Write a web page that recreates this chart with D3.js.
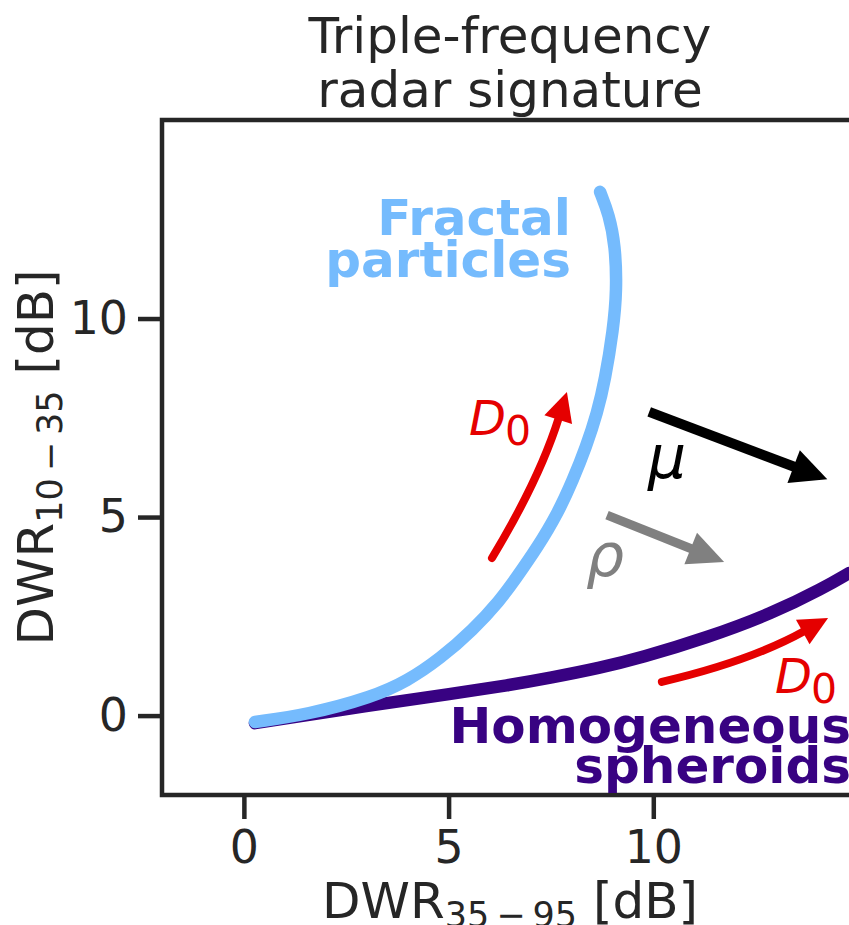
<!DOCTYPE html>
<html>
<head>
<meta charset="utf-8">
<script src="https://cdn.jsdelivr.net/npm/d3@7"></script>
<style>
  html, body { margin: 0; padding: 0; background: #ffffff; }
  svg { display: block; font-family: "DejaVu Sans", sans-serif; }
</style>
</head>
<body>
<svg id="chart" width="849" height="925"></svg>
<script>
// Model curves in (DWR35-95, DWR10-35) space, dB
const fractalCurve = [
  [0.27, -0.16], [1.54, 0.02], [3.15, 0.47], [3.99, 0.87], [4.79, 1.43],
  [5.60, 2.16], [6.26, 2.91], [6.62, 3.42], [7.18, 4.25], [7.67, 5.10],
  [8.04, 5.94], [8.36, 6.77], [8.63, 7.62], [8.82, 8.45], [9.02, 9.71],
  [9.11, 10.72], [9.07, 11.85], [8.92, 12.61], [8.70, 13.19]
];
const spheroidCurve = [
  [0.27, -0.19], [3.15, 0.27], [5.04, 0.54], [6.50, 0.77], [7.48, 0.95],
  [8.70, 1.20], [9.68, 1.45], [11.31, 1.96], [12.92, 2.58], [14.15, 3.21],
  [14.78, 3.59]
];
const xTicks = [0, 5, 10];
const yTicks = [0, 5, 10];
const titleLines = ["Triple-frequency", "radar signature"];

// Arrow anchors (tail -> tip) in data units
const arrowMu = [[9.90, 7.65], [14.25, 5.95]];
const arrowRho = [[8.87, 5.05], [11.73, 3.87]];
const arrowD0Fractal = [[6.06, 3.97], [7.89, 8.15]];
const arrowD0Spheroid = [[10.21, 0.85], [14.27, 2.46]];

const C = {
  text: "#262626",
  fractal: "#75bbfd",
  spheroid: "#380282",
  red: "#e50000",
  grey: "#808080",
  black: "#000000"
};

const svg = d3.select("#chart");
const plot = { left: 162, right: 858, top: 120, bottom: 795 };

const x = d3.scaleLinear().domain([-2, 15]).range([plot.left, plot.right]);
const y = d3.scaleLinear().domain([-2, 15]).range([plot.bottom, plot.top]);

// Curves
const line = d3.line().x(d => x(d[0])).y(d => y(d[1])).curve(d3.curveBasis);

svg.append("path")
  .datum(spheroidCurve)
  .attr("d", line)
  .attr("fill", "none")
  .attr("stroke", C.spheroid)
  .attr("stroke-width", 12.5)
  .attr("stroke-linecap", "round")
  .attr("stroke-linejoin", "round");

svg.append("path")
  .datum(fractalCurve)
  .attr("d", line)
  .attr("fill", "none")
  .attr("stroke", C.fractal)
  .attr("stroke-width", 12.5)
  .attr("stroke-linecap", "round")
  .attr("stroke-linejoin", "round");

// Arrows: optional curvature bends the shaft as a quadratic arc
function arrow(pts, o) {
  const T = [x(pts[0][0]), y(pts[0][1])];
  const P = [x(pts[1][0]), y(pts[1][1])];
  const dx = P[0] - T[0], dy = P[1] - T[1];
  const rad = o.rad || 0;
  const Cp = [(T[0] + P[0]) / 2 - rad * dy, (T[1] + P[1]) / 2 + rad * dx];
  let ux = P[0] - Cp[0], uy = P[1] - Cp[1];
  const L = Math.hypot(ux, uy);
  ux /= L; uy /= L;
  const B = [P[0] - ux * o.headLen, P[1] - uy * o.headLen];
  const nx = -uy, ny = ux;
  const g = svg.append("g");
  const p = d3.path();
  p.moveTo(T[0], T[1]);
  if (rad) p.quadraticCurveTo(Cp[0], Cp[1], B[0] + ux * 2, B[1] + uy * 2);
  else p.lineTo(B[0] + ux * 2, B[1] + uy * 2);
  g.append("path")
    .attr("d", p.toString())
    .attr("fill", "none")
    .attr("stroke", o.color)
    .attr("stroke-width", o.width)
    .attr("stroke-linecap", o.cap || "butt");
  const hw = o.headWidth / 2;
  g.append("path")
    .attr("d", d3.line()([
      P,
      [B[0] + nx * hw, B[1] + ny * hw],
      [B[0] - nx * hw, B[1] - ny * hw]
    ]) + "Z")
    .attr("fill", o.color);
}

arrow(arrowMu, { color: C.black, width: 10, headLen: 36, headWidth: 35 });
arrow(arrowRho, { color: C.grey, width: 9, headLen: 36, headWidth: 34 });
arrow(arrowD0Fractal, { color: C.red, width: 8, headLen: 29, headWidth: 29, rad: 0.06, cap: "round" });
arrow(arrowD0Spheroid, { color: C.red, width: 8, headLen: 29, headWidth: 28, rad: 0.07, cap: "round" });

// Spines (left, bottom, top; the right one sits past the figure edge)
svg.append("path")
  .attr("d", `M${plot.right},${plot.top}H${plot.left}V${plot.bottom}H${plot.right}`)
  .attr("fill", "none")
  .attr("stroke", C.text)
  .attr("stroke-width", 4.5);

// Axes
const xAxis = svg.append("g")
  .attr("transform", `translate(0,${plot.bottom})`)
  .call(d3.axisBottom(x).tickValues(xTicks).tickFormat(d3.format("d")).tickSize(24).tickPadding(11));
const yAxis = svg.append("g")
  .attr("transform", `translate(${plot.left},0)`)
  .call(d3.axisLeft(y).tickValues(yTicks).tickFormat(d3.format("d")).tickSize(24).tickPadding(10));
[xAxis, yAxis].forEach(a => {
  a.select(".domain").remove();
  a.selectAll(".tick line").attr("stroke", C.text).attr("stroke-width", 4.5);
  a.selectAll(".tick text")
    .attr("fill", C.text)
    .attr("font-size", 45.8)
    .attr("font-family", "DejaVu Sans");
});

// Axis labels with subscripts
function labelWithSub(sel, main, sub, tail) {
  sel.append("tspan").text(main);
  sel.append("tspan").attr("font-size", 35).attr("dy", 9).text(sub);
  sel.append("tspan").attr("dy", -9).text(tail);
}
const xl = svg.append("text")
  .attr("x", (plot.left + plot.right) / 2)
  .attr("y", 918)
  .attr("text-anchor", "middle")
  .attr("font-size", 50)
  .attr("fill", C.text);
labelWithSub(xl, "DWR", "35\u2009\u2212\u200995", " [dB]");

const yl = svg.append("text")
  .attr("transform", `translate(53,${(plot.top + plot.bottom) / 2}) rotate(-90)`)
  .attr("text-anchor", "middle")
  .attr("font-size", 50)
  .attr("fill", C.text);
labelWithSub(yl, "DWR", "10\u2009\u2212\u200935", " [dB]");

// Title
svg.append("g").selectAll("text")
  .data(titleLines)
  .join("text")
  .attr("x", (plot.left + plot.right) / 2)
  .attr("y", (d, i) => 53 + i * 54)
  .attr("text-anchor", "middle")
  .attr("font-size", 50)
  .attr("fill", C.text)
  .text(d => d);

// Curve names
function block(lines, xp, yp, step, color) {
  svg.append("g").selectAll("text")
    .data(lines)
    .join("text")
    .attr("x", xp)
    .attr("y", (d, i) => yp + i * step)
    .attr("text-anchor", "end")
    .attr("font-size", 50)
    .attr("font-weight", "bold")
    .attr("fill", color)
    .text(d => d);
}
block(["Fractal", "particles"], 571, 235, 42, C.fractal);
block(["Homogeneous", "spheroids"], 851, 743, 40, C.spheroid);

// Symbol labels
function dLabel(xp, yp) {
  const t = svg.append("text")
    .attr("x", xp).attr("y", yp)
    .attr("font-size", 48)
    .attr("fill", C.red);
  t.append("tspan").attr("font-style", "italic").text("D");
  t.append("tspan").attr("font-size", 41).attr("dy", 10).attr("dx", -1).text("0");
}
dLabel(469, 435);
dLabel(775, 693);

svg.append("text").attr("x", 648).attr("y", 478)
  .attr("font-size", 60).attr("font-style", "italic").attr("fill", C.black).text("\u03bc");
svg.append("text").attr("x", 586).attr("y", 576)
  .attr("font-size", 60).attr("font-style", "italic").attr("fill", C.grey).text("\u03c1");
</script>
</body>
</html>
